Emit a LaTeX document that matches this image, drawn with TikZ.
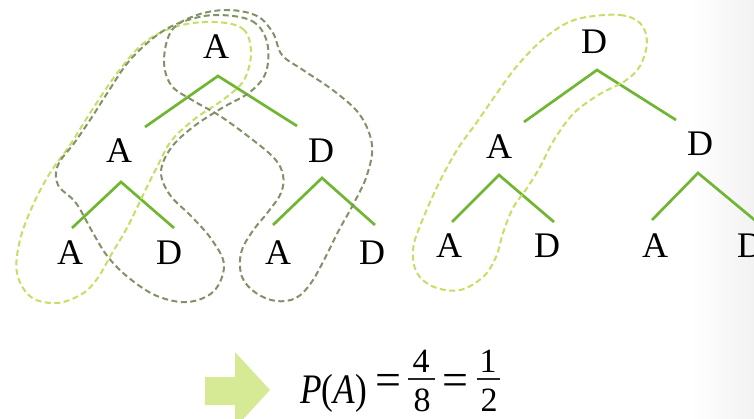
\documentclass[tikz,border=0pt]{standalone}
\usepackage{fontspec}
\setmainfont{Liberation Serif}
\usetikzlibrary{calc}
\definecolor{branchgreen}{RGB}{112,182,50}
\definecolor{loopyellow}{RGB}{196,224,100}
\definecolor{loopgrey}{RGB}{130,146,104}
\definecolor{arrowgreen}{RGB}{214,234,150}
\begin{document}
\begin{tikzpicture}[x=1pt,y=-1pt,
  letter/.style={inner sep=0pt,font=\fontsize{36}{38}\selectfont},
  branch/.style={draw=branchgreen,line width=2.7pt},
  loopA/.style={draw=loopyellow,line width=2pt,dash pattern=on 6pt off 3.5pt},
  loopB/.style={draw=loopgrey,line width=2pt,dash pattern=on 6pt off 3.5pt},
  fml/.style={inner sep=0pt,font=\fontsize{42}{44}\selectfont},
  eqsign/.style={inner sep=0pt,font=\fontsize{46}{48}\selectfont},
  digit/.style={inner sep=0pt,font=\fontsize{34}{36}\selectfont},
  fracbar/.style={draw=black!85,line width=1.7pt}]
\useasboundingbox (0,0) rectangle (754,419);
\clip (0,0) rectangle (754,419);
\fill[white] (0,0) rectangle (754,419);
\shade[left color=white,right color=black!5,draw=none] (690,0) rectangle (754,419);

% ---------- left tree ----------
\node[letter] (rA) at (216,47) {A};
\node[letter] (lA) at (119,151) {A};
\node[letter] (lD) at (321,151) {D};
\node[letter] (a1) at (70,253) {A};
\node[letter] (d2) at (169,253) {D};
\node[letter] (a3) at (278,253) {A};
\node[letter] (d4) at (372,253) {D};

\draw[branch] ($(lA)+(26,-24)$) -- ($(rA)+(2,29)$) -- ($(lD)+(-24,-25)$);
\draw[branch] ($(a1)+(2,-25)$) -- ($(lA)+(2,31)$) -- ($(d2)+(5,-25)$);
\draw[branch] ($(a3)+(-5,-28)$) -- ($(lD)+(1,27)$) -- ($(d4)+(3,-28)$);

% loop A-A-A
\draw[loopA] plot[smooth cycle,tension=0.6] coordinates {
 (215,22) (243,29) (251,52) (244,80) (224,99) (196,118) (172,140) (158,165)
 (144,193) (128,226) (111,255) (97,279) (82,294) (57,303) (31,297) (17,273)
 (20,240) (33,205) (50,173) (70,145) (92,110) (118,72) (145,42) (178,26)};
% loop A-A-D
\draw[loopB] plot[smooth cycle,tension=0.6] coordinates {
 (218,15) (252,21) (267,42) (266,72) (250,92) (222,108) (193,127) (171,148)
 (161,172) (170,195) (192,217) (212,240) (224,265) (214,291) (188,302)
 (157,296) (129,278) (108,257) (93,233) (76,203) (58,185) (58,165) (75,142)
 (92,117) (108,92) (130,60) (160,33) (188,20)};
% loop A-D-A
\draw[loopB] plot[smooth cycle,tension=0.6] coordinates {
 (164,60) (172,30) (197,15) (228,10) (257,16) (273,33) (282,55) (303,70)
 (334,91) (360,115) (372,145) (367,175) (354,203) (339,230) (324,260)
 (311,283) (296,298) (276,301) (256,293) (242,277) (241,253) (252,232)
 (268,212) (281,193) (283,175) (274,158) (249,137) (220,116) (192,100) (171,85)};

% ---------- right tree ----------
\node[letter] (rD) at (594,42) {D};
\node[letter] (mA) at (499,147) {A};
\node[letter] (mD) at (700,144) {D};
\node[letter] (la) at (449,246) {A};
\node[letter] (ld) at (547,246) {D};
\node[letter] (ra) at (655,246) {A};
\node[letter] (rd) at (750,246) {D};

\draw[branch] ($(mA)+(25,-25)$) -- ($(rD)+(3,28)$) -- ($(mD)+(-24,-24)$);
\draw[branch] ($(la)+(3,-24)$) -- ($(mA)+(0,28)$) -- ($(ld)+(7,-24)$);
\draw[branch] ($(ra)+(-3,-26)$) -- ($(mD)+(-2,29)$) -- ($(rd)+(7,-24)$);

% loop D-A-A
\draw[loopA] plot[smooth cycle,tension=0.6] coordinates {
 (587,17) (620,15) (640,23) (647,42) (640,66) (625,81) (600,94) (574,113)
 (554,140) (540,167) (527,188) (513,208) (503,233) (496,257) (483,277)
 (460,290) (434,287) (417,273) (413,250) (420,226) (438,185) (457,150)
 (477,122) (497,93) (517,66) (541,41) (565,24)};

% ---------- bottom: arrow and formula ----------
\fill[arrowgreen] (205,377) -- (235,377) -- (235,352) -- (270,390) -- (235,428)
  -- (235,405) -- (205,405) -- cycle;

\node[fml,anchor=base west] (pa) at (300,403) {\scalebox{0.84}[1]{\textit{P}(\textit{A})}};
\node[eqsign] (eq1) at (388,385) {=};
\node[digit,anchor=base] (n4) at (421,372) {4};
\coordinate (b1l) at (408,379);
\coordinate (b1r) at (435,379);
\draw[fracbar] (b1l) -- (b1r);
\node[digit,anchor=base] (n8) at (422,411) {8};
\node[eqsign] (eq2) at (455,385) {=};
\node[digit,anchor=base] (n1) at (488,372) {1};
\coordinate (b2l) at (477,379);
\coordinate (b2r) at (500,379);
\draw[fracbar] (b2l) -- (b2r);
\node[digit,anchor=base] (n2) at (489,411) {2};
\end{tikzpicture}
\end{document}
